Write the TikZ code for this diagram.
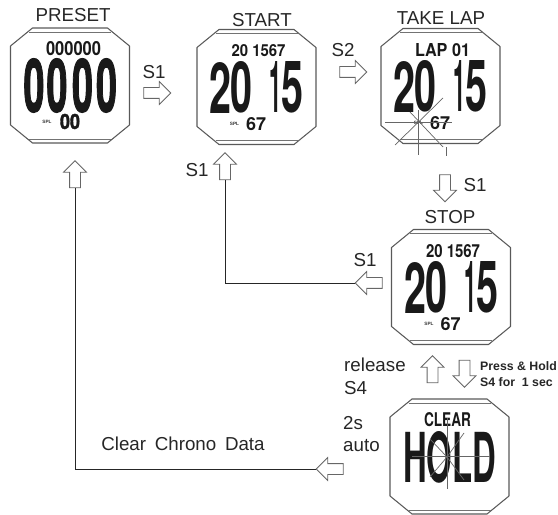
\documentclass[tikz,border=0pt]{standalone}
\usepackage{fontspec}
\setmainfont{Liberation Sans}
\newfontfamily\lcdfont{TeX Gyre Heros}[BoldFont={* Bold}]
\usetikzlibrary{calc,shapes.arrows}
\newlength{\px}
\setlength{\px}{0.03cm}
\newcommand{\lcd}[3]{\resizebox{#1\px}{#2\px}{\lcdfont\bfseries #3}}
\tikzset{
	watch/.style = {inner sep=0pt, outer sep=0pt, minimum width=119\px, minimum height=115\px},
	case/.style = {draw=black!65, line width=0.9pt, line join=round},
	band/.style = {draw=black!55, line width=0.8pt},
	lcdtext/.style = {inner sep=0pt, outer sep=0pt, text=black!90},
	splmark/.style = {inner sep=0pt, font=\bfseries\fontsize{4}{4}\selectfont, text=black!80},
	title/.style = {inner sep=0pt, font=\fontsize{16}{18}\selectfont, text=black!85},
	keyname/.style = {inner sep=0pt, font=\fontsize{16}{18}\selectfont, text=black!85},
	small/.style = {inner sep=0pt, align=left, font=\bfseries\fontsize{10.5}{13.6}\selectfont, text=black!85},
	blockarrow/.style = {draw=black!60, line width=0.7pt, single arrow, single arrow head extend=6\px, minimum width=22\px, minimum height=27\px, inner sep=5\px, outer sep=0pt},
	flash/.style = {draw=black!60, line width=0.6pt},
	line/.style = {draw=black!85, line width=0.8pt}
}
\newcommand{\lapface}[2]{
	\node[lcdtext] (#1top) at ($(#1)+(2,-36)$) {#2};
	\node[lcdtext] (#1d) at ($(#1)+(-36,0.5)$) {\lcd{22}{51}{2}};
	\node[lcdtext] (#1e) at ($(#1)+(-15,0.5)$) {\lcd{22}{51}{0}};
	\node[lcdtext] (#1f) at ($(#1)+(19,0.5)$) {\lcd{12}{51}{1}};
	\node[lcdtext] (#1g) at ($(#1)+(36,0.5)$) {\lcd{22}{51}{5}};
	\node[splmark] (#1spl) at ($(#1)+(-22,37)$) {SPL};
	\node[lcdtext] (#1c) at ($(#1)+(-0.5,37)$) {\lcd{20}{13}{67}};
}
\begin{document}
\begin{tikzpicture}[x=0.03cm, y=-0.03cm]
	\useasboundingbox (0,0) rectangle (558,515);
	\node[watch] (preset) at (70,85.5) {};
	\node[watch] (start) at (256.5,87) {};
	\node[watch] (take) at (440.5,86) {};
	\node[watch] (stop) at (451,287) {};
	\node[watch] (clear) at (449.5,456.5) {};
	\foreach \w in {preset,start,take,stop,clear} {
		\draw[case] ($(\w.north west)+(22,0)$) -- ($(\w.north east)+(-22,0)$) -- ($(\w.north east)+(0,18)$) -- ($(\w.south east)+(0,-18)$) -- ($(\w.south east)+(-22,0)$) -- ($(\w.south west)+(22,0)$) -- ($(\w.south west)+(0,-18)$) -- ($(\w.north west)+(0,18)$) -- cycle;
		\draw[band] ($(\w.north)+(-41,4)$) -- ($(\w.north)+(41,4)$);
		\draw[band] ($(\w.south)+(-41,-4)$) -- ($(\w.south)+(41,-4)$);
	}

	\node[title] (presettitle) at (73,15) {PRESET};
	\node[title] (starttitle) at (262,20) {START};
	\node[title] (taketitle) at (441,18) {TAKE LAP};
	\node[title] (stoptitle) at (450,217) {STOP};

	% displays
	\node[lcdtext] (presettop) at (73.5,48.5) {\lcd{55}{14}{000000}};
	\foreach \i/\x in {1/34,2/57,3/82.5,4/106.5}
		\node[lcdtext] (presetbig\i) at (\x,85.5) {\lcd{21}{53}{\addfontfeature{FakeBold=2}0}};
	\node[splmark] (presetspl) at (47,122) {SPL};
	\node[lcdtext] (presetlow) at (70,121.5) {\lcd{20}{15}{\addfontfeature{FakeBold=2}00}};
	\lapface{start}{\lcd{54}{12}{20 1567}}
	\lapface{take}{\lcd{55}{13}{LAP 01}}
	\lapface{stop}{\lcd{54}{13}{20 1567}}
	\node[lcdtext] (clearword) at (447.5,420) {\lcd{47}{14}{CLEAR}};
	\node[lcdtext] (clearhold) at (449.5,457.5) {\lcd{93}{51}{HOLD}};

	% lap flash
	\draw[flash] (385,122) -- (452,122);
	\draw[flash] (418,110) -- (418,155);
	\draw[flash] (395,145) -- (443,98);
	\draw[flash] (410,112) -- (443,147);
	\draw[flash] (446,147) -- (446,156);

	% hold marks
	\draw[flash] (447,418) -- (447,489);
	\draw[flash] (412,456) -- (490,456);
	\draw[flash] (430,439) -- (447,457) -- (430,477);
	\draw[flash] (464,433) -- (447,457) -- (464,480);

	% arrows
	\node[blockarrow] (s1right) at (154.5,93) {};
	\node[blockarrow] (s2right) at (350.5,72) {};
	\node[blockarrow, shape border rotate=90] (startin) at (225,169) {};
	\node[blockarrow, shape border rotate=90] (presetin) at (75,177) {};
	\node[blockarrow, shape border rotate=270] (takeout) at (445,185.5) {};
	\node[blockarrow, shape border rotate=180] (stopout) at (371.5,283) {};
	\node[blockarrow, shape border rotate=90] (releaseup) at (432.5,372) {};
	\node[blockarrow, shape border rotate=270] (holddown) at (464.5,371) {};
	\node[blockarrow, shape border rotate=180] (clearout) at (332.5,469) {};
	\draw[line] (stopout.tip) -| (startin.tail);
	\draw[line] (clearout.tip) -| (presetin.tail);

	% labels
	\node[keyname] (s1preset) at (154,72) {S1};
	\node[keyname] (s2start) at (343,50) {S2};
	\node[keyname] (s1start) at (197,170) {S1};
	\node[keyname] (s1take) at (475,185) {S1};
	\node[keyname] (s1stop) at (365,260) {S1};
	\node[keyname, anchor=west] (release) at (344,365) {release};
	\node[keyname, anchor=west] (s4) at (344,388) {S4};
	\node[keyname, anchor=west] (twos) at (343,423) {2s};
	\node[keyname, anchor=west] (auto) at (343,446) {auto};
	\node[small, anchor=west] (press) at (480,374) {Press \& Hold\\S4 for\ \ 1 sec};
	\node[keyname] (chrono) at (183,444) {Clear\hspace{3pt} Chrono\hspace{3pt} Data};
\end{tikzpicture}
\end{document}
